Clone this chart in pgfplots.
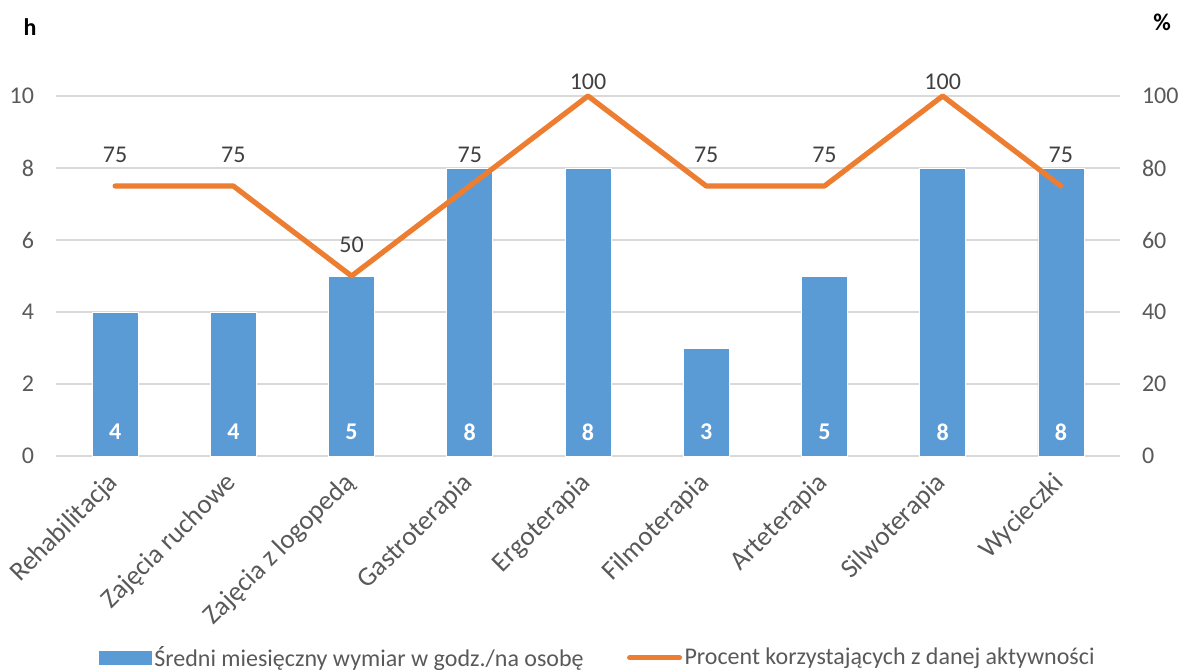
\documentclass[border=0pt]{standalone}
\usepackage{fontspec}
\setmainfont{Carlito}
\usepackage{pgfplots}
\pgfplotsset{compat=1.18}
\definecolor{barblue}{HTML}{5B9BD5}
\definecolor{lineorange}{HTML}{ED7D31}
\definecolor{gridgray}{HTML}{D9D9D9}
\definecolor{ticktext}{HTML}{595959}
\definecolor{labeltext}{HTML}{404040}
\begin{document}
\begin{tikzpicture}
\pgfplotsset{
  base/.style={
    scale only axis, width=532pt, height=180pt,
    xmin=-0.5, xmax=8.5,
    font=\fontsize{12}{14}\selectfont,
    tick style={draw=none},
    axis line style={draw=none},
    /pgf/number format/assume math mode=true,
    clip=false,
  }
}
\begin{axis}[base,
  ymin=0, ymax=10, ytick={0,2,...,10},
  ymajorgrids, grid style={gridgray, line width=0.9pt},
  xtick={0,...,8},
  xticklabels={Rehabilitacja, Zajęcia ruchowe, Zajęcia z logopedą, Gastroterapia, Ergoterapia, Filmoterapia, Arteterapia, Silwoterapia, Wycieczki},
  xticklabel style={anchor=east, yshift=-9pt, xshift=2pt, rotate=45, text=ticktext, font=\fontsize{13.5}{15}\selectfont},
  yticklabel style={text=ticktext, xshift=-7.5pt},
]
\addplot[ybar, bar shift=0pt, bar width=23pt, fill=barblue, draw=white, line width=0.3pt,
  nodes near coords,
  visualization depends on=y \as \rawy,
  every node near coord/.append style={anchor=center, text=white, font=\fontsize{12}{14}\selectfont\bfseries, yshift={12-18*\rawy}}]
  coordinates {(0,4) (1,4) (2,5) (3,8) (4,8) (5,3) (6,5) (7,8) (8,8)};
\end{axis}
\begin{axis}[base,
  ymin=0, ymax=100, ytick={0,20,...,100},
  xtick=\empty,
  yticklabel pos=right,
  yticklabel style={text=ticktext, xshift=7.5pt},
  legend columns=2,
  legend style={at={(axis description cs:0.5094,-0.561)}, anchor=center, draw=none, fill=none,
    font=\fontsize{12}{14}\selectfont, text=ticktext,
    /tikz/every even column/.append style={column sep=20.5pt},
    nodes={inner xsep=1.2pt}},
]
\addlegendimage{legend image code/.code={\fill[barblue] (0pt,-3.4pt) rectangle (26pt,3.4pt);}}
\addlegendentry{Średni miesięczny wymiar w godz./na osobę}
\addlegendimage{legend image code/.code={\draw[lineorange, line width=2.5pt, line cap=round] (1pt,0pt) -- (26pt,0pt);}}
\addlegendentry{Procent korzystających z danej aktywności}
\addplot[forget plot, lineorange, line width=2.6pt, line join=round, line cap=round, mark=none,
  nodes near coords,
  visualization depends on=y \as \pval,
  every node near coord/.append style={anchor=center, text=labeltext, font=\fontsize{12}{14}\selectfont, yshift={ifthenelse(\pval==100,7,15.5)}}]
  coordinates {(0,75) (1,75) (2,50) (3,75) (4,100) (5,75) (6,75) (7,100) (8,75)};
\node[font=\fontsize{12}{14}\selectfont\bfseries] at ([shift={(-13pt,214.5pt)}]current axis.south west) {h};
\node[font=\fontsize{12}{14}\selectfont\bfseries] at ([shift={(553pt,217pt)}]current axis.south west) {\%};
\end{axis}
\pgfresetboundingbox
\path[use as bounding box] ([shift={(-28pt,-107pt)}]current axis.south west) rectangle ++(590pt,335pt);
\end{tikzpicture}
\end{document}
